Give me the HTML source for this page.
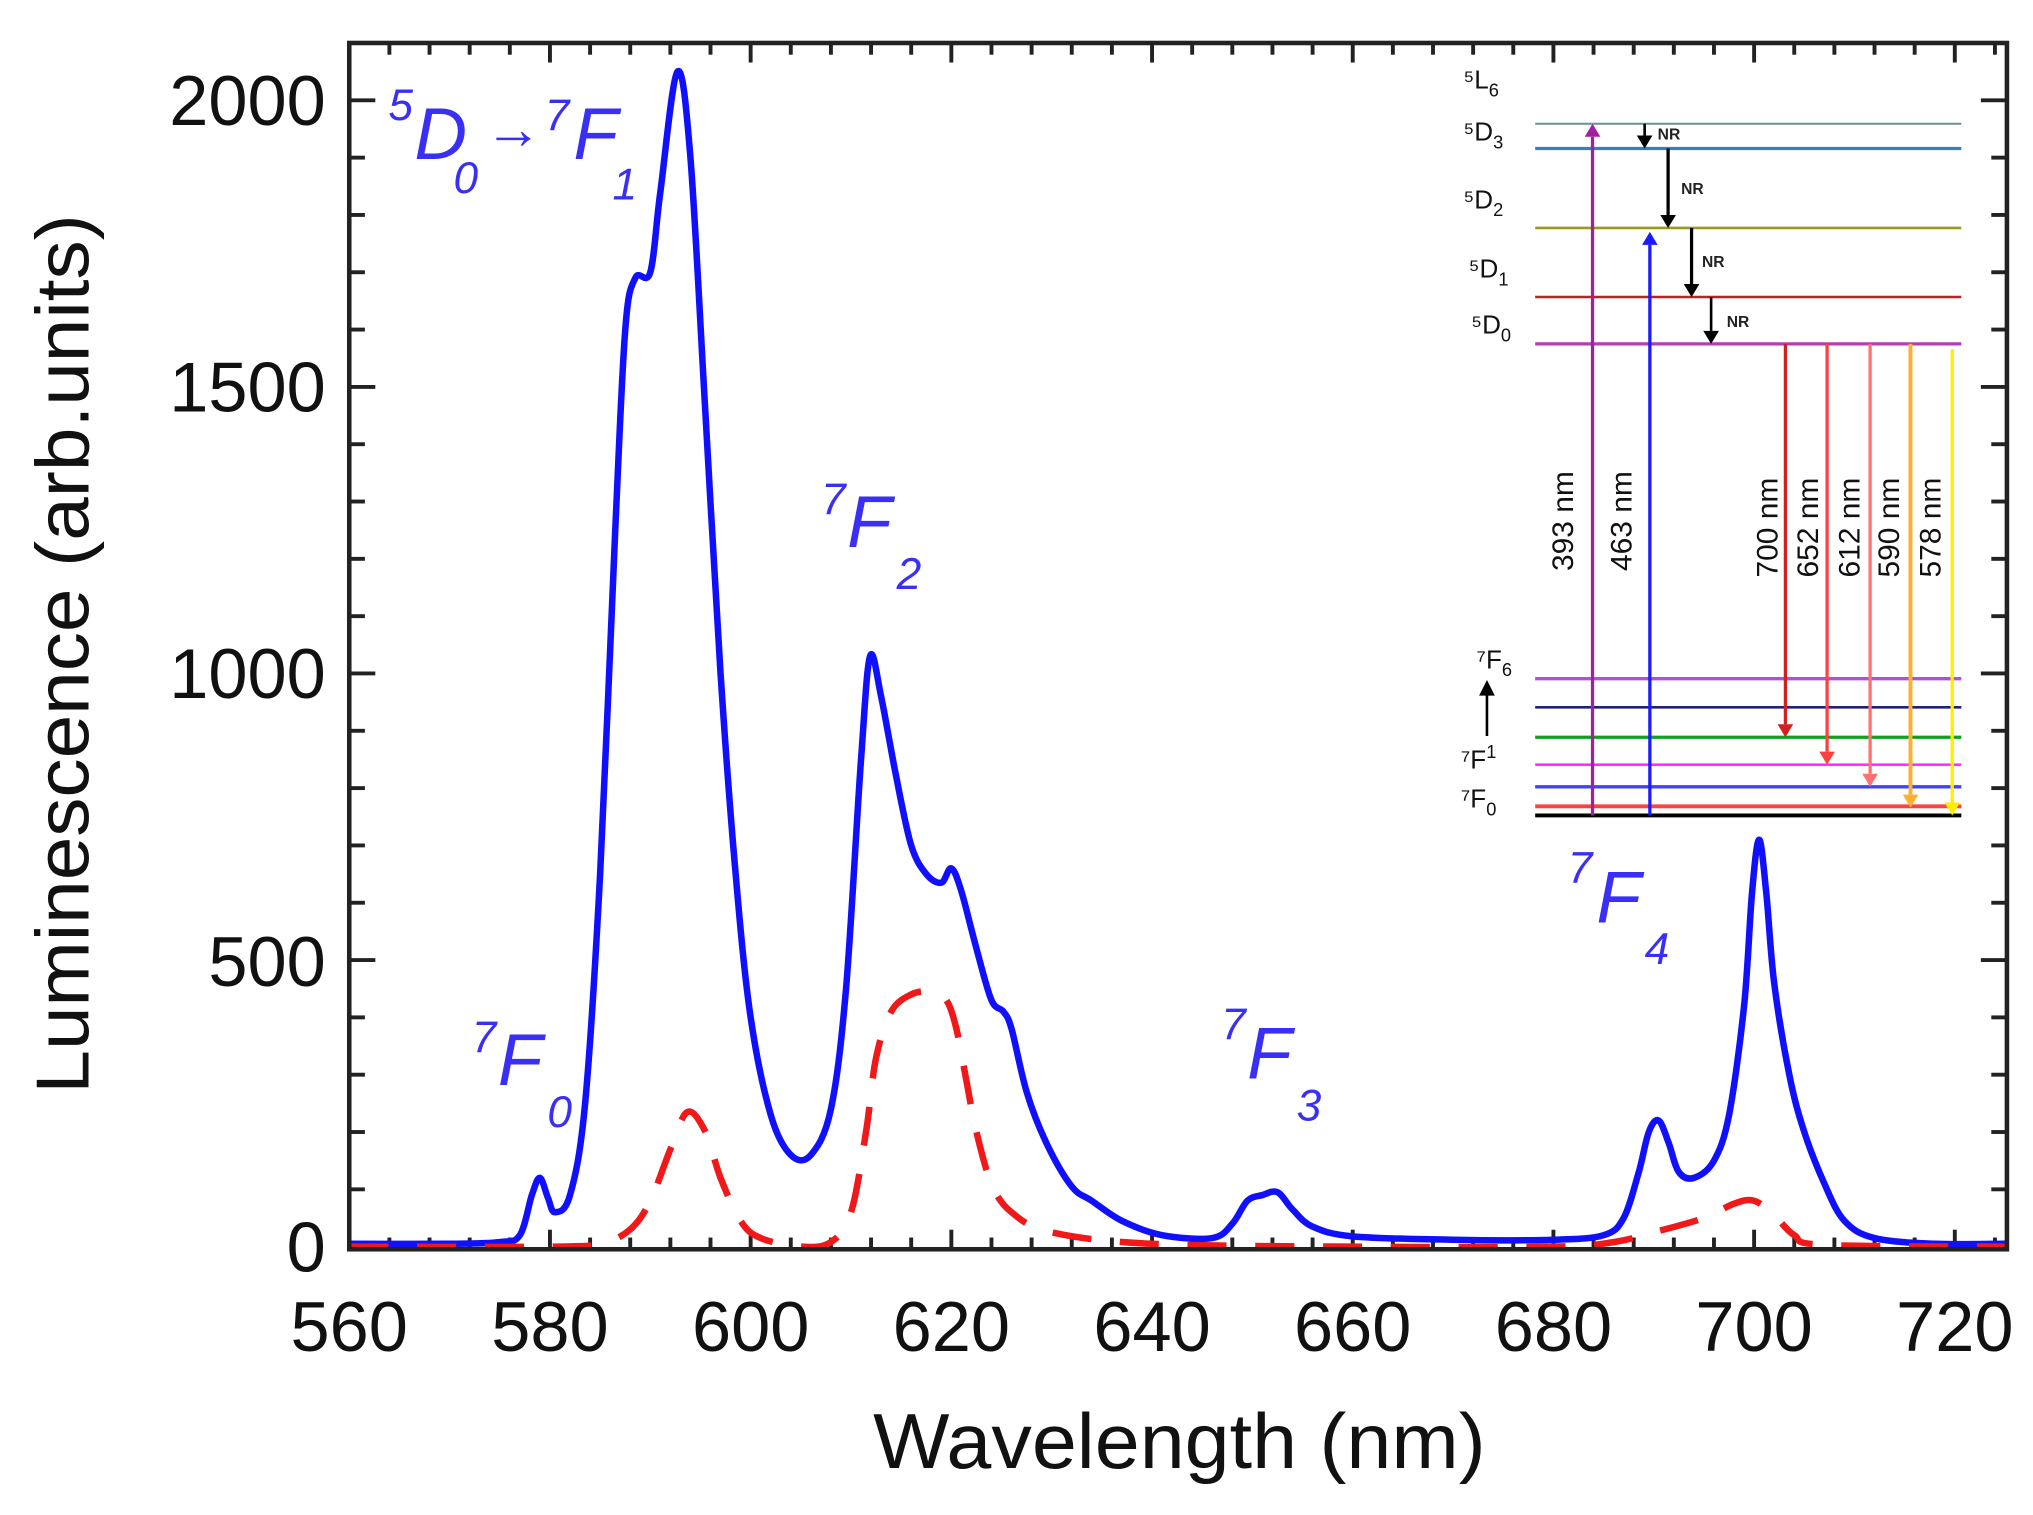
<!DOCTYPE html>
<html><head><meta charset="utf-8"><style>
html,body{margin:0;padding:0;background:#fff;}
svg{display:block;}
.tk{font-family:"Liberation Sans",sans-serif;font-size:54px;fill:#111;}
.ann{font-family:"Liberation Sans",sans-serif;font-style:italic;fill:#3a30f5;}
.lv{font-family:"Liberation Sans",sans-serif;font-size:20px;fill:#111;}
.nm{font-family:"Liberation Sans",sans-serif;font-size:23px;fill:#111;}
</style></head><body>
<svg id="s" width="2033" height="1515" viewBox="0 0 1560 1163" preserveAspectRatio="none" xmlns="http://www.w3.org/2000/svg">
<rect x="0" y="0" width="1560" height="1163" fill="#fff"/>
<g id="ticks" stroke="#222" stroke-width="3"></g>
<path id="blue" fill="none" stroke="#1010ff" stroke-width="5" stroke-linejoin="round"/>
<path id="red" fill="none" stroke="#f01818" stroke-width="5" stroke-dasharray="30,22"/>
<rect x="268" y="33" width="1272" height="926" fill="none" stroke="#222" stroke-width="3.5"/>
<g class="tk" text-anchor="end">
<text x="250" y="96">2000</text><text x="250" y="316">1500</text><text x="250" y="536">1000</text><text x="250" y="757">500</text><text x="250" y="976">0</text>
</g>
<g class="tk" text-anchor="middle">
<text x="268" y="1037">560</text><text x="422" y="1037">580</text><text x="576" y="1037">600</text><text x="730" y="1037">620</text><text x="884" y="1037">640</text><text x="1038" y="1037">660</text><text x="1192" y="1037">680</text><text x="1346" y="1037">700</text><text x="1500" y="1037">720</text>
</g>
<text x="905" y="1127" text-anchor="middle" textLength="470" lengthAdjust="spacingAndGlyphs" style="font-family:'Liberation Sans',sans-serif;font-size:60px;fill:#111">Wavelength (nm)</text>
<text transform="translate(68,502) rotate(-90)" text-anchor="middle" textLength="675" lengthAdjust="spacingAndGlyphs" style="font-family:'Liberation Sans',sans-serif;font-size:58px;fill:#111">Luminescence (arb.units)</text>
<g class="ann">
<text x="298" y="92" font-size="34">5</text><text x="318" y="122" font-size="56">D</text><text x="348" y="148" font-size="34">0</text>
<text x="372" y="114" font-size="44">→</text><text x="418" y="100" font-size="34">7</text><text x="440" y="122" font-size="56">F</text><text x="470" y="153" font-size="34">1</text>
<text x="630" y="395" font-size="34">7</text><text x="650" y="420" font-size="56">F</text><text x="688" y="452" font-size="34">2</text>
<text x="362" y="808" font-size="34">7</text><text x="382" y="833" font-size="56">F</text><text x="420" y="865" font-size="34">0</text>
<text x="937" y="798" font-size="34">7</text><text x="957" y="828" font-size="56">F</text><text x="995" y="860" font-size="34">3</text>
<text x="1203" y="678" font-size="34">7</text><text x="1225" y="708" font-size="56">F</text><text x="1262" y="740" font-size="34">4</text>
</g>
<g id="inset">
<line x1="1178" y1="95" x2="1505" y2="95" stroke="#6a9090" stroke-width="1.5"/>
<line x1="1178" y1="114" x2="1505" y2="114" stroke="#3a7ec0" stroke-width="2.5"/>
<line x1="1178" y1="175" x2="1505" y2="175" stroke="#9a9a20" stroke-width="2"/>
<line x1="1178" y1="228" x2="1505" y2="228" stroke="#c02020" stroke-width="2"/>
<line x1="1178" y1="264" x2="1505" y2="264" stroke="#b040b0" stroke-width="2.5"/>
<line x1="1178" y1="521" x2="1505" y2="521" stroke="#b050e0" stroke-width="2.5"/>
<line x1="1178" y1="543" x2="1505" y2="543" stroke="#202080" stroke-width="2"/>
<line x1="1178" y1="566" x2="1505" y2="566" stroke="#10a020" stroke-width="2.5"/>
<line x1="1178" y1="587" x2="1505" y2="587" stroke="#ff30ff" stroke-width="2"/>
<line x1="1178" y1="604" x2="1505" y2="604" stroke="#4040ff" stroke-width="2.5"/>
<line x1="1178" y1="619" x2="1505" y2="619" stroke="#ff4040" stroke-width="3"/>
<line x1="1178" y1="626" x2="1505" y2="626" stroke="#000" stroke-width="3"/>
<g class="lv">
<text x="1123" y="68">⁵L<tspan font-size="14" dy="6">6</tspan></text>
<text x="1123" y="108">⁵D<tspan font-size="14" dy="6">3</tspan></text>
<text x="1123" y="160">⁵D<tspan font-size="14" dy="6">2</tspan></text>
<text x="1127" y="213">⁵D<tspan font-size="14" dy="6">1</tspan></text>
<text x="1129" y="256">⁵D<tspan font-size="14" dy="6">0</tspan></text>
<text x="1133" y="513">⁷F<tspan font-size="14" dy="6">6</tspan></text>
<text x="1121" y="590">⁷F<tspan font-size="14" dy="-8">1</tspan></text>
<text x="1121" y="620">⁷F<tspan font-size="14" dy="6">0</tspan></text>
</g>
<line x1="1141" y1="565" x2="1141" y2="532" stroke="#000" stroke-width="2"/><polygon points="1135,534 1147,534 1141,522" fill="#000"/>
<g id="arrows"></g>
<g class="nm">
<text transform="translate(1207,400) rotate(-90)" text-anchor="middle">393 nm</text>
<text transform="translate(1252,400) rotate(-90)" text-anchor="middle">463 nm</text>
<text transform="translate(1364,405) rotate(-90)" text-anchor="middle">700 nm</text>
<text transform="translate(1395,405) rotate(-90)" text-anchor="middle">652 nm</text>
<text transform="translate(1427,405) rotate(-90)" text-anchor="middle">612 nm</text>
<text transform="translate(1457,405) rotate(-90)" text-anchor="middle">590 nm</text>
<text transform="translate(1489,405) rotate(-90)" text-anchor="middle">578 nm</text>
</g>
<g style="font-family:'Liberation Sans',sans-serif;font-size:12px;font-weight:bold;fill:#222">
<text x="1272" y="107">NR</text><text x="1290" y="149">NR</text><text x="1306" y="205">NR</text><text x="1325" y="251">NR</text>
</g>
</g>
</svg>
<script>
function X(n){return 268+(n-560)*7.7;}
function Y(v){return 957-v*0.44;}
var t=document.getElementById('ticks'),h='';
for(var n=564;n<725;n+=4){var maj=((n-560)%20==0);var L=maj?15:9;var x=X(n);
h+='<line x1="'+x+'" y1="959" x2="'+x+'" y2="'+(959-L)+'"/><line x1="'+x+'" y1="33" x2="'+x+'" y2="'+(33+L)+'"/>';}
for(var v=0;v<=2000;v+=100){var maj=(v%500==0);var L=maj?20:12;var y=Y(v);
h+='<line x1="268" y1="'+y+'" x2="'+(268+L)+'" y2="'+y+'"/><line x1="1540" y1="'+y+'" x2="'+(1540-L)+'" y2="'+y+'"/>';}
t.innerHTML=h;
function path(d){var p=d.map(function(a){return [X(a[0]),Y(a[1])];});
var s='M'+p[0][0].toFixed(1)+','+p[0][1].toFixed(1);
for(var i=0;i<p.length-1;i++){var p0=p[i>0?i-1:i],p1=p[i],p2=p[i+1],p3=p[i+2<p.length?i+2:i+1];
var c1x=p1[0]+(p2[0]-p0[0])/6,c1y=p1[1]+(p2[1]-p0[1])/6,c2x=p2[0]-(p3[0]-p1[0])/6,c2y=p2[1]-(p3[1]-p1[1])/6;
s+='C'+c1x.toFixed(1)+','+c1y.toFixed(1)+' '+c2x.toFixed(1)+','+c2y.toFixed(1)+' '+p2[0].toFixed(1)+','+p2[1].toFixed(1);}
return s;}
var B=[[560,5],[570,5],[575,8],[577,20],[578.2,90],[579,120],[579.8,85],[580.5,60],[582,90],[583.5,250],[585,650],[586.5,1250],[587.5,1600],[588.5,1690],[590,1700],[591,1840],[592.7,2050],[594,1900],[595.5,1450],[597,1000],[598.5,650],[600,400],[602,230],[604,160],[606,160],[608,240],[609.5,450],[611,850],[611.9,1030],[613,960],[614.5,820],[616,700],[617.5,650],[619,635],[620,660],[621,620],[622.5,520],[624,430],[625.2,410],[626,380],[627.5,270],[629.5,180],[632,105],[634,80],[637,45],[641,20],[646,15],[648,40],[649.5,80],[651,90],[652.5,95],[654,65],[656,35],[660,18],[670,12],[680,12],[685,20],[687,50],[688.5,130],[689.5,200],[690.5,220],[691.5,180],[692.5,130],[694,120],[696,150],[697.5,230],[699,420],[699.8,620],[700.5,710],[701.2,620],[702,460],[703.5,300],[705,200],[707,110],[709,45],[712,15],[718,5],[725,5]];
var R=[[560,0],[580,0],[585,5],[588,30],[590,80],[592,170],[593.7,235],[595.5,200],[597,120],[599,45],[601,15],[605,0],[608,8],[610,60],[611.5,200],[612.5,330],[614,410],[616,440],[618,445],[619.5,430],[620.5,380],[621.5,290],[622.5,200],[624,110],[626,60],[630,25],[640,5],[660,0],[680,0],[686,8],[690,25],[695,50],[698,75],[700,80],[702,55],[704,20],[707,3],[725,0]];
document.getElementById('blue').setAttribute('d',path(B));
document.getElementById('red').setAttribute('d',path(R));
var A=[[1222,626,95,'#a020a0',2.5],[1266,626,178,'#1a1aff',2.5],[1262,95,114,'#000',2],[1280,114,175,'#000',2.5],[1298,175,228,'#000',2.5],[1313,228,264,'#000',2],
[1370,264,566,'#d02020',2.5],[1402,264,587,'#ff4040',2.5],[1435,264,604,'#ff7070',2.5],[1466,264,620,'#ffb030',3],[1498,268,626,'#ffee00',2.5]];
var g=document.getElementById('arrows'),a='';
A.forEach(function(r){var x=r[0],y1=r[1],y2=r[2],c=r[3],w=r[4];var dir=y2>y1?1:-1;var hl=10,hw=6;
a+='<line x1="'+x+'" y1="'+y1+'" x2="'+x+'" y2="'+(y2-dir*hl)+'" stroke="'+c+'" stroke-width="'+w+'"/>';
a+='<polygon points="'+(x-hw)+','+(y2-dir*hl)+' '+(x+hw)+','+(y2-dir*hl)+' '+x+','+y2+'" fill="'+c+'"/>';});
g.innerHTML=a;
</script>
</body></html>
